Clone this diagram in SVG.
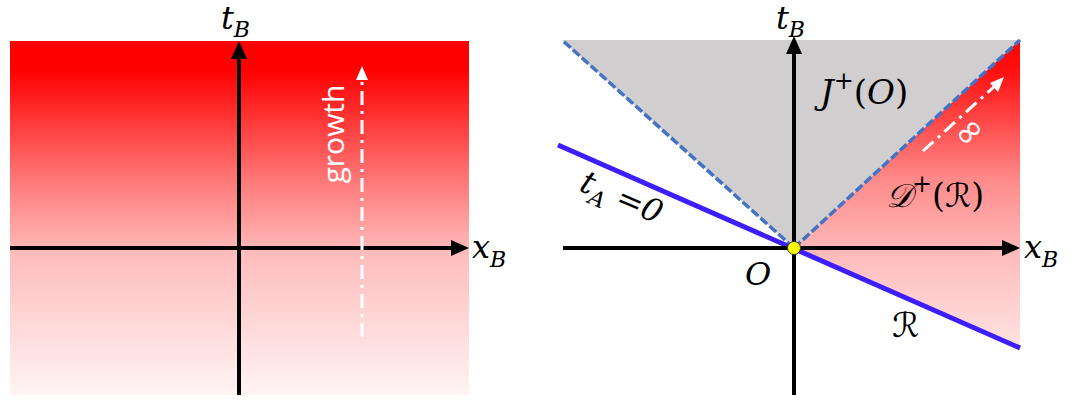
<svg xmlns="http://www.w3.org/2000/svg" width="1076" height="407" viewBox="0 0 1076 407">
<defs>
<linearGradient id="gL" gradientUnits="userSpaceOnUse" x1="0" y1="41" x2="0" y2="395">
<stop offset="0" stop-color="#ff0000"/>
<stop offset="0.08" stop-color="#ff0000"/>
<stop offset="0.4" stop-color="#ff7a7a"/>
<stop offset="0.6" stop-color="#ffbcbc"/>
<stop offset="1" stop-color="#fff4f4"/>
</linearGradient>
<linearGradient id="gR" gradientUnits="userSpaceOnUse" x1="0" y1="40" x2="0" y2="350">
<stop offset="0" stop-color="#ff0000"/>
<stop offset="0.1" stop-color="#ff1010"/>
<stop offset="0.45" stop-color="#ff8a8a"/>
<stop offset="0.7" stop-color="#ffbcbc"/>
<stop offset="1" stop-color="#ffe4e4"/>
</linearGradient>
</defs>
<style>
.axis{stroke:#000;stroke-width:4;fill:none}
.head{fill:#000}
.dd{stroke:#fff;stroke-width:3;fill:none;stroke-dasharray:14 6 3 6}
.lc{stroke:#4472c4;stroke-width:3.5;fill:none;stroke-dasharray:9 3}
.m{font-family:"DejaVu Serif","Liberation Serif",serif;font-style:italic;fill:#000}
.u{font-family:"DejaVu Serif","Liberation Serif",serif;font-style:normal;fill:#000}
.cal{font-family:"DejaVu Sans","Noto Sans",serif;fill:#000}
</style>

<g id="left-panel">
<rect x="10" y="41" width="459" height="354" fill="url(#gL)"/>
</g>

<g id="right-panel">
<polygon id="future-cone" points="794,248 562,40 1020,40" fill="#d0cece"/>
<polygon id="domain" points="794,248 1020,40 1020,347" fill="url(#gR)"/>
</g>

<g id="connectors">
<line class="axis" x1="239" y1="395" x2="239" y2="56"/>
<polygon class="head" points="239,41 231,59 247,59"/>
<line class="axis" x1="10" y1="248" x2="454" y2="248"/>
<polygon class="head" points="469,248 451,240 451,256"/>
<line class="dd" x1="362" y1="337" x2="362" y2="78"/>
<polygon fill="#fff" points="362,66 356,80 368,80"/>

<line class="lc" x1="794" y1="248" x2="562" y2="40"/>
<line class="lc" x1="794" y1="248" x2="1020" y2="40"/>
<line x1="558" y1="145" x2="1020" y2="348" stroke="#3c1eff" stroke-width="5"/>
<line class="axis" x1="794" y1="395" x2="794" y2="52"/>
<polygon class="head" points="794,36 786,54 802,54"/>
<line class="axis" x1="563" y1="248" x2="1004" y2="248"/>
<polygon class="head" points="1020,248 1002,240 1002,256"/>
<line class="dd" x1="923" y1="151" x2="996" y2="85"/>
<polygon fill="#fff" points="1004,77 990,83 998,92"/>
</g>

<g id="origin">
<circle cx="794" cy="248" r="6.5" fill="#ffff00" stroke="#333" stroke-width="1"/>
</g>

<g id="labels">
<text class="m" x="221" y="29" font-size="32">t<tspan font-size="22" dy="8">B</tspan></text>
<text class="m" x="472" y="258" font-size="32">x<tspan font-size="22" dy="9">B</tspan></text>
<text x="344" y="134" transform="rotate(-90 344 134)" font-family="Open Sans, Liberation Sans, sans-serif" font-size="30" fill="#fff" text-anchor="middle">growth</text>

<text class="m" x="776" y="29" font-size="32">t<tspan font-size="22" dy="8">B</tspan></text>
<text class="m" x="1024" y="258" font-size="32">x<tspan font-size="22" dy="9">B</tspan></text>
<text class="m" x="745" y="285" font-size="32">O</text>
<g transform="rotate(23.3 578 190)">
<text class="m" x="578" y="190" font-size="32">t<tspan font-size="22" dy="8">A</tspan><tspan dy="-8" class="u" font-style="normal"> =</tspan><tspan>0</tspan></text>
</g>
<text class="m" x="820" y="104" font-size="34">J<tspan class="u" font-size="24" dy="-15">+</tspan><tspan class="u" dy="15">(</tspan>O<tspan class="u">)</tspan></text>
<text class="m" x="886" y="207" font-size="33"><tspan class="cal">𝒟</tspan><tspan class="u" font-size="24" dy="-15">+</tspan><tspan class="u" dy="15">(</tspan><tspan class="cal">ℛ</tspan><tspan class="u">)</tspan></text>
<text class="cal" x="892" y="337" font-size="34">ℛ</text>
<text x="970" y="143" transform="rotate(-42 970 133)" font-family="DejaVu Sans, sans-serif" font-size="36" fill="#fff" text-anchor="middle">∞</text>
</g>
</svg>
